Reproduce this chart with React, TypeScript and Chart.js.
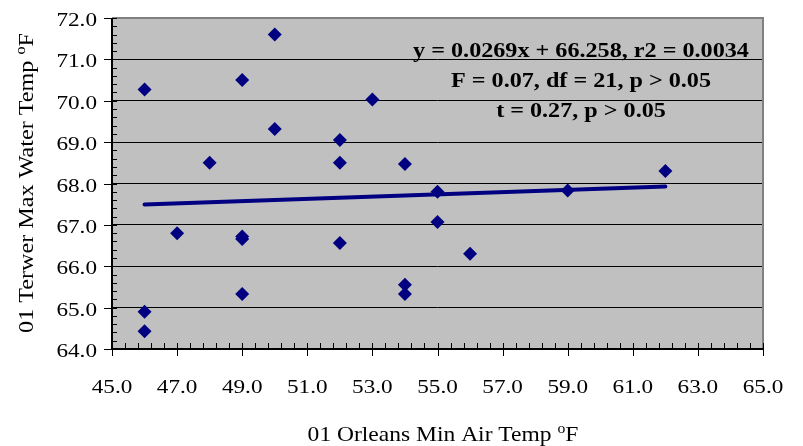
import React, { useEffect, useRef } from "react";
import { Chart, registerables } from "chart.js";

Chart.register(...registerables);

// ---- data ----
const airTemp: number[] = [46, 46, 46, 47, 48, 49, 49, 49, 49, 50, 50, 52, 52, 52, 53, 54, 54, 54, 55, 55, 56, 59, 62];
const waterTemp: number[] = [70.27, 64.9, 64.43, 66.8, 68.5, 70.5, 66.72, 66.66, 65.33, 71.6, 69.32, 69.05, 68.5, 66.56, 70.03, 68.47, 65.55, 65.33, 67.8, 67.07, 66.3, 67.83, 68.3];
const slope = 0.0269;
const intercept = 66.258;
const statLines: string[] = [
  "y = 0.0269x + 66.258, r2 = 0.0034",
  "F = 0.07, df = 21, p > 0.05",
  "t = 0.27, p > 0.05",
];
const xTitleMain = "01 Orleans Min Air Temp ";
const yTitleMain = "01 Terwer Max Water Temp ";
const titleSup = "o";
const titleUnit = "F";
const xRange = { min: 45, max: 65, step: 2, minor: 0.4 };
const yRange = { min: 64, max: 72, step: 1, minor: 0.2 };

const SERIF = "'Liberation Serif', 'Times New Roman', serif";

function drawStretched(
  ctx: CanvasRenderingContext2D,
  s: string,
  x: number,
  y: number,
  font: string,
  sx: number,
  align: "left" | "center" | "right"
) {
  ctx.save();
  ctx.font = font;
  ctx.textBaseline = "alphabetic";
  ctx.textAlign = "left";
  const w = ctx.measureText(s).width * sx;
  const x0 = align === "center" ? x - w / 2 : align === "right" ? x - w : x;
  ctx.translate(x0, y);
  ctx.scale(sx, 1);
  ctx.fillStyle = "#000";
  ctx.fillText(s, 0, 0);
  ctx.restore();
  return w;
}

function titleWidth(ctx: CanvasRenderingContext2D, main: string, sx: number) {
  ctx.save();
  ctx.font = `21px ${SERIF}`;
  const a = ctx.measureText(main).width;
  const c = ctx.measureText(titleUnit).width;
  ctx.font = `14px ${SERIF}`;
  const b = ctx.measureText(titleSup).width;
  ctx.restore();
  return (a + b + c) * sx;
}

function drawTitle(ctx: CanvasRenderingContext2D, main: string, cx: number, baseline: number, sx: number) {
  const total = titleWidth(ctx, main, sx);
  let x = cx - total / 2;
  x += drawStretched(ctx, main, x, baseline, `21px ${SERIF}`, sx, "left");
  x += drawStretched(ctx, titleSup, x, baseline - 8, `14px ${SERIF}`, sx, "left");
  drawStretched(ctx, titleUnit, x, baseline, `21px ${SERIF}`, sx, "left");
}

const decorPlugin = {
  id: "decor",
  beforeDraw(chart: any) {
    const { ctx, chartArea: a } = chart;
    ctx.save();
    ctx.fillStyle = "#C0C0C0";
    ctx.fillRect(a.left, a.top, a.right - a.left, a.bottom - a.top);
    ctx.restore();
  },
  afterDraw(chart: any) {
    const { ctx, chartArea: a } = chart;
    const xs = chart.scales.x;
    const ys = chart.scales.y;
    ctx.save();
    // plot border (gray)
    ctx.strokeStyle = "#808080";
    ctx.lineWidth = 2;
    ctx.beginPath();
    ctx.moveTo(a.left, a.top);
    ctx.lineTo(a.right, a.top);
    ctx.lineTo(a.right, a.bottom);
    ctx.stroke();
    // axes lines
    ctx.strokeStyle = "#000";
    ctx.lineWidth = 2;
    ctx.beginPath();
    ctx.moveTo(a.left, a.top);
    ctx.lineTo(a.left, a.bottom);
    ctx.lineTo(a.right, a.bottom);
    ctx.stroke();
    ctx.lineWidth = 1;
    // x minor ticks
    ctx.beginPath();
    const nxm = Math.round((xRange.max - xRange.min) / xRange.minor);
    for (let i = 0; i <= nxm; i++) {
      const px = Math.round(xs.getPixelForValue(xRange.min + i * xRange.minor)) + 0.5;
      ctx.moveTo(px, a.bottom - 6);
      ctx.lineTo(px, a.bottom);
    }
    // x major ticks
    for (const t of xs.ticks) {
      const px = Math.round(xs.getPixelForValue(t.value)) + 0.5;
      ctx.moveTo(px, a.bottom - 6);
      ctx.lineTo(px, a.bottom + 7);
    }
    // y minor ticks
    const nym = Math.round((yRange.max - yRange.min) / yRange.minor);
    for (let i = 0; i <= nym; i++) {
      const py = Math.round(ys.getPixelForValue(yRange.min + i * yRange.minor)) + 0.5;
      ctx.moveTo(a.left, py);
      ctx.lineTo(a.left + 5, py);
    }
    for (const t of ys.ticks) {
      const py = Math.round(ys.getPixelForValue(t.value)) + 0.5;
      ctx.moveTo(a.left - 8, py);
      ctx.lineTo(a.left + 4, py);
    }
    ctx.stroke();
    ctx.restore();

    // tick labels
    for (const t of xs.ticks) {
      const px = xs.getPixelForValue(t.value);
      drawStretched(ctx, Number(t.value).toFixed(1), px, 393, `19px ${SERIF}`, 1.22, "center");
    }
    for (const t of ys.ticks) {
      const py = ys.getPixelForValue(t.value);
      drawStretched(ctx, Number(t.value).toFixed(1), 97, py + 8, `19px ${SERIF}`, 1.22, "right");
    }

    // stats annotation
    const baselines = [57, 87, 117];
    statLines.forEach((s, i) => {
      drawStretched(ctx, s, 581, baselines[i], `bold 21px ${SERIF}`, 1.15, "center");
    });

    // axis titles
    drawTitle(ctx, xTitleMain, 443, 441, 1.12);
    ctx.save();
    ctx.translate(33, 183);
    ctx.rotate(-Math.PI / 2);
    drawTitle(ctx, yTitleMain, 0, 0, 1.15);
    ctx.restore();
  },
};

export default function App() {
  const ref = useRef<HTMLCanvasElement | null>(null);
  useEffect(() => {
    if (!ref.current) return;
    const points = airTemp.map((x, i) => ({ x, y: waterTemp[i] }));
    const xMin = Math.min(...airTemp);
    const xMax = Math.max(...airTemp);
    const trend = [
      { x: xMin, y: slope * xMin + intercept },
      { x: xMax, y: slope * xMax + intercept },
    ];
    const chart = new Chart(ref.current, {
      type: "scatter",
      data: {
        datasets: [
          {
            type: "line",
            data: trend,
            borderColor: "#000080",
            borderWidth: 4,
            pointRadius: 0,
            fill: false,
            borderCapStyle: "round",
          } as any,
          {
            data: points,
            pointStyle: "rectRot",
            pointRadius: 7,
            backgroundColor: "#000080",
            borderColor: "#000080",
            borderWidth: 0,
          },
        ],
      },
      options: {
        animation: false,
        responsive: true,
        maintainAspectRatio: false,
        layout: { padding: { left: 0, right: 40, top: 18, bottom: 0 } },
        plugins: { legend: { display: false }, tooltip: { enabled: false } },
        scales: {
          x: {
            type: "linear",
            min: xRange.min,
            max: xRange.max,
            ticks: { stepSize: xRange.step, display: false },
            grid: { display: false },
            border: { display: false },
            afterFit: (s: any) => {
              s.height = 97;
            },
          },
          y: {
            type: "linear",
            min: yRange.min,
            max: yRange.max,
            ticks: { stepSize: yRange.step, display: false },
            grid: { color: "#000", lineWidth: 1, drawTicks: false },
            border: { display: false },
            afterFit: (s: any) => {
              s.width = 112;
            },
          },
        },
      },
      plugins: [decorPlugin],
    });
    return () => chart.destroy();
  }, []);
  return (
    <div style={{ position: "absolute", left: 0, top: 0, width: 803, height: 446 }}>
      <canvas ref={ref} />
    </div>
  );
}
